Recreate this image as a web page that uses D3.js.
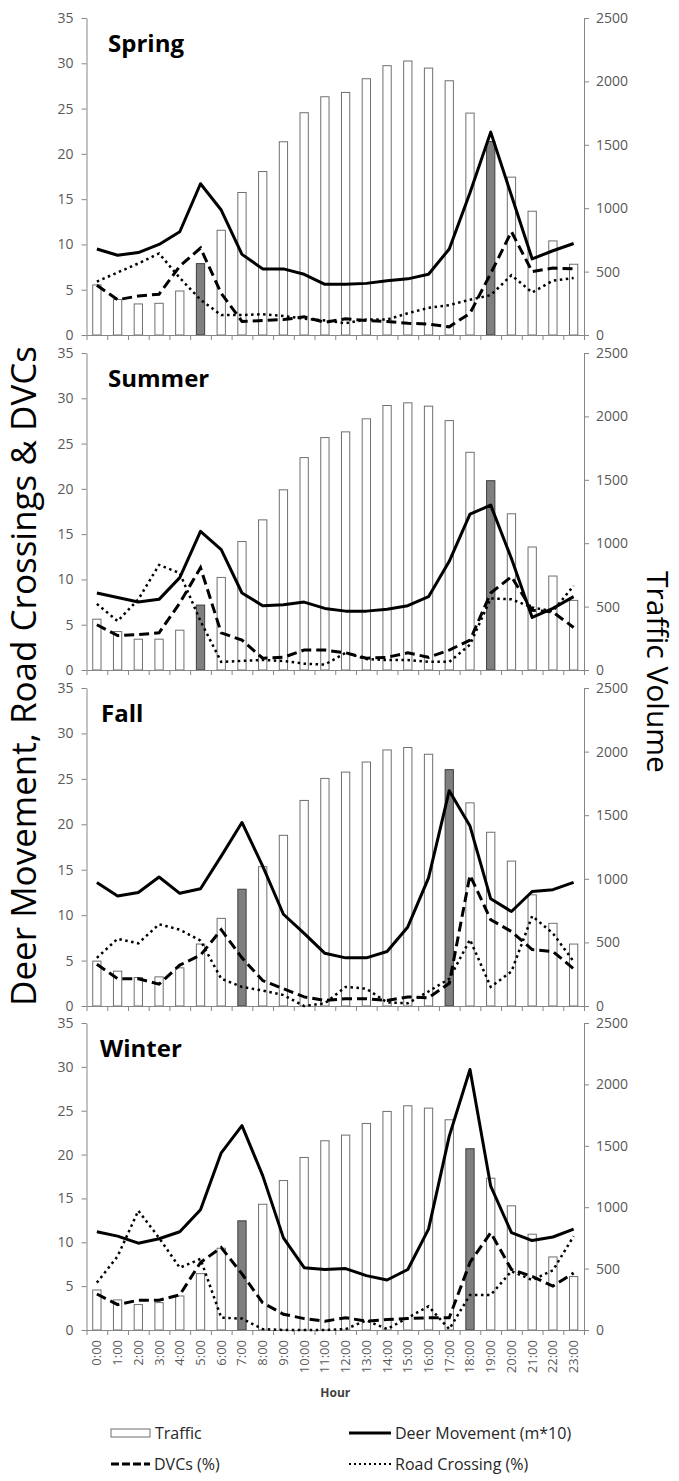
<!DOCTYPE html>
<html><head><meta charset="utf-8">
<script src="https://cdn.jsdelivr.net/npm/d3@7"></script>
<style>body{margin:0;background:#fff}</style>
</head><body>
<svg id="chart" width="679" height="1481"></svg>
<script>
const hours = d3.range(24).map(h => h + ":00");
const seasons = ["Spring", "Summer", "Fall", "Winter"];
const leftTicks = [0, 5, 10, 15, 20, 25, 30, 35];
const rightTicks = [0, 500, 1000, 1500, 2000, 2500];

const springTraffic = [395,280,245,250,347,563,826,1124,1289,1524,1753,1879,1913,2021,2124,2161,2105,2005,1750,1526,1245,976,742,558];
const springDeer = [9.5,8.8,9.1,10.0,11.4,16.7,13.8,8.9,7.3,7.3,6.7,5.6,5.6,5.7,6.0,6.2,6.7,9.5,15.7,22.4,15.4,8.4,9.3,10.1];
const springDVC = [5.5,3.9,4.3,4.5,7.6,9.6,4.6,1.5,1.6,1.7,2.0,1.4,1.8,1.6,1.5,1.3,1.2,0.9,2.4,6.8,11.4,7.0,7.4,7.3];
const springCrossing = [5.9,6.9,7.9,9.0,6.3,3.9,2.2,2.2,2.3,2.1,1.8,1.6,1.3,1.7,1.7,2.4,3.0,3.3,3.9,4.4,6.6,4.7,6.0,6.3];
const springHighlight = [5, 19];

const summerTraffic = [401,303,243,243,314,512,730,1013,1184,1421,1675,1833,1878,1981,2086,2107,2081,1967,1717,1493,1232,970,741,549];
const summerDeer = [8.5,8.0,7.5,7.8,10.2,15.3,13.3,8.5,7.1,7.2,7.5,6.8,6.5,6.5,6.7,7.1,8.1,12.0,17.2,18.2,12.3,5.8,6.8,8.1];
const summerDVC = [5.0,3.8,3.9,4.1,7.4,11.3,4.1,3.3,1.3,1.4,2.2,2.2,1.9,1.3,1.4,1.9,1.4,2.2,3.3,8.5,10.3,6.6,6.4,4.7];
const summerCrossing = [7.3,5.4,7.8,11.6,10.7,5.4,0.9,1.0,1.1,1.0,0.7,0.6,1.9,1.2,1.1,1.1,0.9,0.9,2.8,7.9,7.8,6.9,6.5,9.3];
const summerHighlight = [5, 19];

const fallTraffic = [353,274,224,229,300,487,689,918,1095,1342,1616,1789,1839,1918,2013,2032,1979,1858,1597,1366,1139,874,650,487];
const fallDeer = [13.6,12.1,12.5,14.2,12.4,12.9,16.5,20.2,15.4,10.1,8.0,5.8,5.3,5.3,6.0,8.7,14.1,23.7,19.8,11.8,10.4,12.6,12.8,13.6];
const fallDVC = [4.6,3.0,3.0,2.4,4.5,5.6,8.4,5.3,2.8,1.9,1.0,0.6,0.8,0.8,0.6,1.0,0.9,2.5,14.4,9.5,8.2,6.2,6.0,4.1];
const fallCrossing = [5.3,7.4,6.9,9.0,8.4,7.2,3.0,2.1,1.7,1.2,0.0,0.3,2.1,1.9,0.4,0.3,1.6,3.0,7.3,2.1,3.8,9.9,8.0,4.9];
const fallHighlight = [7, 17];

const winterTraffic = [326,245,207,223,277,459,666,889,1024,1217,1405,1541,1587,1682,1780,1826,1807,1712,1476,1236,1011,780,595,435];
const winterDeer = [11.2,10.7,9.9,10.4,11.2,13.7,20.2,23.3,17.6,10.5,7.1,6.9,7.0,6.2,5.7,6.9,11.5,22.1,29.7,16.4,11.1,10.2,10.6,11.5];
const winterDVC = [4.1,2.9,3.4,3.4,4.0,7.7,9.4,6.4,3.1,1.8,1.3,1.0,1.4,1.0,1.2,1.3,1.4,1.4,7.7,11.1,6.9,6.1,5.0,6.5];
const winterCrossing = [5.4,8.4,13.6,10.5,7.1,8.1,1.4,1.3,0.1,0,0,0,0.1,1.1,0.1,1.4,2.7,0.1,4.0,4.0,6.7,5.7,6.8,10.7];
const winterHighlight = [7, 18];

const panels = [
  {name: seasons[0], traffic: springTraffic, deer: springDeer, dvc: springDVC, cross: springCrossing, hi: springHighlight},
  {name: seasons[1], traffic: summerTraffic, deer: summerDeer, dvc: summerDVC, cross: summerCrossing, hi: summerHighlight},
  {name: seasons[2], traffic: fallTraffic, deer: fallDeer, dvc: fallDVC, cross: fallCrossing, hi: fallHighlight},
  {name: seasons[3], traffic: winterTraffic, deer: winterDeer, dvc: winterDVC, cross: winterCrossing, hi: winterHighlight}
];

const svg = d3.select("#chart");
const FONT = "'Open Sans', sans-serif";
const x0 = 86.5, x1 = 584;
const tops = [18, 353, 688, 1023];
const bottoms = [335, 670, 1006, 1330];
const title_dx = [108, 108, 101, 100];

const x = d3.scaleBand().domain(hours).range([x0, x1]).padding(0);
const xLin = d3.scaleLinear().domain([0, 24]).range([x0, x1]);
const barW = x.bandwidth() * 0.4;

const axisColor = "#868686";
const tickText = "#595959";

function styleAxis(g) {
  g.select(".domain").attr("stroke", axisColor).attr("stroke-width", 1);
  g.selectAll(".tick line").attr("stroke", axisColor);
  g.selectAll(".tick text").attr("fill", tickText).style("font-family", FONT).style("font-size", "14px");
}

panels.forEach((p, i) => {
  const yL = d3.scaleLinear().domain([0, 35]).range([bottoms[i], tops[i]]);
  const yR = d3.scaleLinear().domain([0, 2500]).range([bottoms[i], tops[i]]);
  const g = svg.append("g");

  // bars
  g.selectAll("rect.bar").data(p.traffic).join("rect")
    .attr("x", (d, k) => x(hours[k]) + (x.bandwidth() - barW) / 2)
    .attr("y", d => yR(d))
    .attr("width", barW)
    .attr("height", d => yR(0) - yR(d))
    .attr("fill", (d, k) => p.hi.includes(k) ? "#7f7f7f" : "#ffffff")
    .attr("stroke", (d, k) => p.hi.includes(k) ? "#3f3f3f" : "#6f6f6f")
    .attr("stroke-width", 1);

  // axes
  g.append("g").attr("transform", `translate(${x0},0)`)
    .call(d3.axisLeft(yL).tickValues(leftTicks).tickSize(5).tickSizeOuter(0).tickPadding(8))
    .call(styleAxis);
  g.append("g").attr("transform", `translate(${x1},0)`)
    .call(d3.axisRight(yR).tickValues(rightTicks).tickFormat(d3.format("d")).tickSize(5).tickSizeOuter(0).tickPadding(7))
    .call(styleAxis);
  g.append("g").attr("transform", `translate(0,${bottoms[i]})`)
    .call(d3.axisBottom(xLin).tickValues(d3.range(25)).tickSize(5).tickSizeOuter(0).tickFormat(""))
    .call(styleAxis);

  const cx = k => x(hours[k]) + x.bandwidth() / 2;
  const line = d3.line().x((d, k) => cx(k)).y(d => yL(d));

  g.append("path").datum(p.cross).attr("d", line)
    .attr("fill", "none").attr("stroke", "#000").attr("stroke-width", 2.5)
    .attr("stroke-dasharray", "2.5,3.5");
  g.append("path").datum(p.dvc).attr("d", line)
    .attr("fill", "none").attr("stroke", "#000").attr("stroke-width", 3)
    .attr("stroke-dasharray", "10,5");
  g.append("path").datum(p.deer).attr("d", line)
    .attr("fill", "none").attr("stroke", "#000").attr("stroke-width", 3)
    .attr("stroke-linejoin", "round");

  g.append("text").attr("x", title_dx[i]).attr("y", tops[i] + 34)
    .text(p.name)
    .style("font-family", FONT).style("font-weight", "bold").style("font-size", "24px")
    .attr("fill", "#000");
});

// x tick labels on last panel
svg.append("g").selectAll("text").data(hours).join("text")
  .attr("transform", d => `translate(${x(d) + x.bandwidth() / 2 + 4.5},${bottoms[3] + 10}) rotate(-90)`)
  .attr("text-anchor", "end")
  .text(d => d)
  .style("font-family", FONT).style("font-size", "13px").attr("fill", tickText);

svg.append("text").attr("x", (x0 + x1) / 2).attr("y", 1397).attr("text-anchor", "middle")
  .text("Hour").style("font-family", FONT).style("font-weight", "bold").style("font-size", "12px").attr("fill", "#404040");

// axis titles
svg.append("text").attr("transform", "translate(36,676) rotate(-90)").attr("text-anchor", "middle")
  .text("Deer Movement, Road Crossings & DVCs")
  .style("font-family", FONT).style("font-size", "35px").attr("fill", "#000");
svg.append("text").attr("transform", "translate(647,672) rotate(90)").attr("text-anchor", "middle")
  .text("Traffic Volume")
  .style("font-family", FONT).style("font-size", "30px").attr("fill", "#000");

// legend
const leg = svg.append("g").style("font-family", FONT).style("font-size", "16px");
leg.append("rect").attr("x", 111).attr("y", 1429).attr("width", 39).attr("height", 8)
  .attr("fill", "#fff").attr("stroke", "#6f6f6f");
leg.append("text").attr("x", 155).attr("y", 1439).text("Traffic").attr("fill", "#262626");
leg.append("line").attr("x1", 349).attr("x2", 391).attr("y1", 1433).attr("y2", 1433)
  .attr("stroke", "#000").attr("stroke-width", 3);
leg.append("text").attr("x", 395).attr("y", 1439).text("Deer Movement (m*10)").attr("fill", "#262626");
leg.append("line").attr("x1", 111).attr("x2", 150).attr("y1", 1464).attr("y2", 1464)
  .attr("stroke", "#000").attr("stroke-width", 3).attr("stroke-dasharray", "8,3");
leg.append("text").attr("x", 154).attr("y", 1470).text("DVCs (%)").attr("fill", "#262626");
leg.append("line").attr("x1", 349).attr("x2", 391).attr("y1", 1464).attr("y2", 1464)
  .attr("stroke", "#000").attr("stroke-width", 2).attr("stroke-dasharray", "2,3");
leg.append("text").attr("x", 395).attr("y", 1470).text("Road Crossing (%)").attr("fill", "#262626");
</script>
</body></html>
